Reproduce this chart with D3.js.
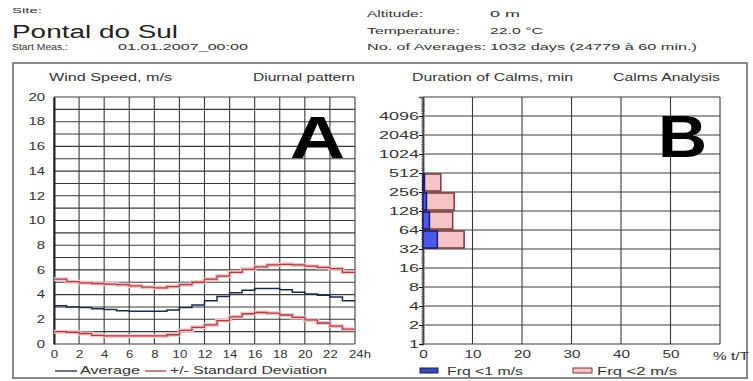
<!DOCTYPE html>
<meta charset="utf-8">
<head>
<style>
body { margin: 0; background: #fff; }
svg { font-family: "Liberation Sans", Arial, sans-serif; }
text { fill: #333; }
.tick text { font-size: 10px; fill: #333; font-family: "Liberation Sans", Arial, sans-serif; }
.grid line { stroke: #3a3a3a; stroke-width: 1.1; }
</style>
</head>
<body>
<svg width="753" height="381"></svg>
<script src="https://d3js.org/d3.v7.min.js"></script>
<script>

// diurnal pattern, hourly wind speed (m/s)
var hours = d3.range(24);
var average = [3.1, 3.0, 2.95, 2.85, 2.8, 2.7, 2.65, 2.65, 2.65, 2.75, 2.95, 3.15, 3.5, 3.85, 4.15, 4.35, 4.5, 4.5, 4.4, 4.2, 4.05, 3.95, 3.8, 3.5];
var sdUpper = [5.25, 5.05, 4.95, 4.9, 4.85, 4.8, 4.7, 4.6, 4.55, 4.65, 4.8, 5.0, 5.25, 5.5, 5.8, 6.05, 6.25, 6.4, 6.45, 6.4, 6.3, 6.2, 6.1, 5.8];
var sdLower = [1.0, 0.95, 0.85, 0.7, 0.65, 0.65, 0.65, 0.65, 0.65, 0.75, 1.1, 1.35, 1.55, 1.9, 2.2, 2.45, 2.55, 2.5, 2.35, 2.15, 1.95, 1.7, 1.45, 1.2];
var xTicksA = [0, 2, 4, 6, 8, 10, 12, 14, 16, 18, 20, 22, 24];
var yTicksA = [0, 2, 4, 6, 8, 10, 12, 14, 16, 18, 20];

// calms analysis: duration bins (min) and % of time
var binLow = [256, 128, 64, 32];
var binHigh = [512, 256, 128, 64];
var frq1 = [0.3, 0.7, 1.3, 2.9];
var frq2 = [3.6, 6.3, 6.0, 8.3];
var yTicksB = [1, 2, 4, 8, 16, 32, 64, 128, 256, 512, 1024, 2048, 4096];
var xTicksB = [0, 10, 20, 30, 40, 50];

var svg = d3.select("svg");

// the original is stretched sideways, so texts get a fixed width
function label(x, y, str, w, size) {
  return svg.append("text").attr("x", x).attr("y", y)
    .style("font-size", (size || 10) + "px")
    .attr("textLength", w).attr("lengthAdjust", "spacingAndGlyphs").text(str);
}
function stretchTicks(g, perChar) {
  g.selectAll(".tick text").each(function() {
    var t = d3.select(this);
    t.attr("textLength", t.text().length * perChar).attr("lengthAdjust", "spacingAndGlyphs");
  });
}

// header
label(12, 13, "Site:", 30, 7.5);
label(12, 38, "Pontal do Sul", 166, 18).style("fill", "#222");
label(12, 50, "Start Meas.:", 56, 8.5);
label(118, 50, "01.01.2007_00:00", 130, 8.5);
var info = [["Altitude:", "0 m", 56, 30], ["Temperature:", "22.0 °C", 93, 53], ["No. of Averages:", "1032 days (24779 à 60 min.)", 119, 207]];
info.forEach(function(d, i) {
  label(367, 17 + i * 16.5, d[0], d[2], 8.5);
  label(490, 17 + i * 16.5, d[1], d[3], 8.5);
});

// panel frame
svg.append("rect").attr("x", 13).attr("y", 63).attr("width", 734).attr("height", 315)
  .attr("fill", "none").attr("stroke", "#8a8a8a").attr("stroke-width", 2);

// ---------- chart A ----------
var xA = d3.scaleLinear().domain([0, 24]).range([54, 355]);
var yA = d3.scaleLinear().domain([0, 20]).range([344, 97]);

var gA = svg.append("g");
gA.append("g").attr("class", "grid").selectAll("line").data(d3.range(0, 21))
  .enter().append("line")
  .attr("x1", xA(0)).attr("x2", xA(24)).attr("y1", function(d) { return yA(d); }).attr("y2", function(d) { return yA(d); });
gA.append("g").attr("class", "grid").selectAll("line").data(xTicksA)
  .enter().append("line")
  .attr("y1", yA(0)).attr("y2", yA(20)).attr("x1", function(d) { return xA(d); }).attr("x2", function(d) { return xA(d); });

var axAx = gA.append("g").attr("transform", "translate(0," + yA(0) + ")")
  .call(d3.axisBottom(xA).tickValues(xTicksA).tickSize(0).tickPadding(7)
    .tickFormat(function(d) { return d === 24 ? "24h" : d; }))
  .call(function(g) { g.select(".domain").remove(); });
stretchTicks(axAx, 7.3);
axAx.selectAll(".tick text").filter(function(d) { return d === 24; }).attr("dx", "0.45em");
var ayA = gA.append("g").attr("transform", "translate(" + xA(0) + ",0)")
  .call(d3.axisLeft(yA).tickValues(yTicksA).tickSize(0).tickPadding(9))
  .call(function(g) { g.select(".domain").attr("stroke", "#222").attr("stroke-width", 2); });
stretchTicks(ayA, 8.3);

function stepLine(vals) {
  var pts = hours.map(function(h) { return [h, vals[h]]; });
  pts.push([24, vals[23]]);
  return d3.line().curve(d3.curveStepAfter)
    .x(function(d) { return xA(d[0]); }).y(function(d) { return yA(d[1]); })(pts);
}
[sdUpper, sdLower].forEach(function(v) {
  gA.append("path").attr("d", stepLine(v)).attr("fill", "none").attr("stroke", "#f2c4c4").attr("stroke-width", 4);
  gA.append("path").attr("d", stepLine(v)).attr("fill", "none").attr("stroke", "#a8404a").attr("stroke-width", 1.3);
});
gA.append("path").attr("d", stepLine(average)).attr("fill", "none").attr("stroke", "#1f2a48").attr("stroke-width", 1.5);

label(49, 81, "Wind Speed, m/s", 123);
label(253, 81, "Diurnal pattern", 102);
label(290, 158, "A", 55, 60).style("font-weight", "bold").style("fill", "#000");

// legend A
svg.append("line").attr("x1", 55).attr("x2", 77).attr("y1", 371).attr("y2", 371).attr("stroke", "#1f2a48").attr("stroke-width", 1.3);
label(80, 374, "Average", 60);
svg.append("line").attr("x1", 145).attr("x2", 166).attr("y1", 371).attr("y2", 371).attr("stroke", "#a8404a").attr("stroke-width", 1.3);
label(170, 374, "+/- Standard Deviation", 157);

// ---------- chart B ----------
var xB = d3.scaleLinear().domain([0, 60]).range([423, 720]);
var yB = d3.scaleLog().base(2).domain([1, 8192]).range([344, 97]);

var gB = svg.append("g");
gB.append("g").attr("class", "grid").selectAll("line").data(yTicksB.concat([8192]))
  .enter().append("line")
  .attr("x1", xB(0)).attr("x2", xB(60)).attr("y1", function(d) { return yB(d); }).attr("y2", function(d) { return yB(d); });
gB.append("g").attr("class", "grid").selectAll("line").data(xTicksB.concat([60]))
  .enter().append("line")
  .attr("y1", yB(1)).attr("y2", yB(8192)).attr("x1", function(d) { return xB(d); }).attr("x2", function(d) { return xB(d); });

// minor ticks on left axis
var minor = [];
yTicksB.concat([4096]).forEach(function(p) { for (var k = 1; k < 8; k++) minor.push(p * Math.pow(2, k / 8)); });
gB.append("g").selectAll("line").data(minor).enter().append("line")
  .attr("x1", xB(0) - 2).attr("x2", xB(0) + 2)
  .attr("y1", function(d) { return yB(d); }).attr("y2", function(d) { return yB(d); })
  .attr("stroke", "#777").attr("stroke-width", 0.8);

var axB = gB.append("g").attr("transform", "translate(0," + yB(1) + ")")
  .call(d3.axisBottom(xB).tickValues(xTicksB).tickSize(0).tickPadding(7))
  .call(function(g) { g.select(".domain").remove(); });
stretchTicks(axB, 8.5);
var ayB = gB.append("g").attr("transform", "translate(" + xB(0) + ",0)")
  .call(d3.axisLeft(yB).tickValues(yTicksB).tickSize(4).tickPadding(0).tickFormat(d3.format("d")))
  .call(function(g) { g.select(".domain").attr("stroke", "#444").attr("stroke-width", 1.5); });
stretchTicks(ayB, 10);
label(713, 360, "% t/T", 36);

// bars
gB.append("g").selectAll("rect").data(frq2).enter().append("rect")
  .attr("x", xB(0)).attr("y", function(d, i) { return yB(binHigh[i]) + 1; })
  .attr("width", function(d) { return xB(d) - xB(0); })
  .attr("height", function(d, i) { return yB(binLow[i]) - yB(binHigh[i]) - 2; })
  .attr("fill", "#f4c4c6").attr("stroke", "#7a3a3a").attr("stroke-width", 1.5);
gB.append("g").selectAll("rect").data(frq1).enter().append("rect")
  .attr("x", xB(0)).attr("y", function(d, i) { return yB(binHigh[i]) + 1; })
  .attr("width", function(d) { return xB(d) - xB(0); })
  .attr("height", function(d, i) { return yB(binLow[i]) - yB(binHigh[i]) - 2; })
  .attr("fill", "#4a5ae8").attr("stroke", "#1a1a70").attr("stroke-width", 1.5);

label(412, 81, "Duration of Calms, min", 161);
label(613, 81, "Calms Analysis", 107);
label(658, 157, "B", 49, 60).style("font-weight", "bold").style("fill", "#000");

// legend B
svg.append("rect").attr("x", 420).attr("y", 368).attr("width", 18).attr("height", 5).attr("fill", "#3a4aa8").attr("stroke", "#1a1a60");
label(447, 375, "Frq <1 m/s", 76);
svg.append("rect").attr("x", 573).attr("y", 368).attr("width", 19).attr("height", 5).attr("fill", "#f4c4c6").attr("stroke", "#7a3a3a");
label(597, 375, "Frq <2 m/s", 80);

</script>
</body>
</html>
